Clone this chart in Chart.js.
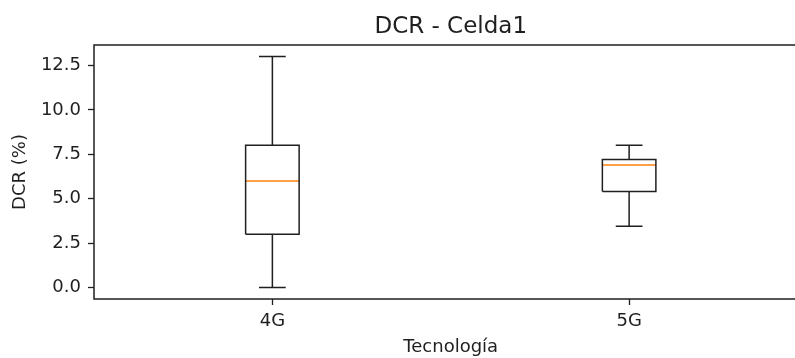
<!DOCTYPE html>
<html>
<head>
<meta charset="utf-8">
<script src="https://cdn.jsdelivr.net/npm/chart.js@4.4.1/dist/chart.umd.min.js"></script>
<style>
  html, body { margin: 0; padding: 0; background: #ffffff; overflow: hidden; }
  #wrap { width: 795px; height: 358px; overflow: hidden; position: relative; }
  canvas { display: block; position: absolute; left: 0; top: 0; }
</style>
</head>
<body>
<div id="wrap"><canvas id="chart" width="812" height="358"></canvas></div>
<script>
// Box-plot summary per technology (DCR, %)
const categories  = ['4G', '5G'];
const whiskerLow  = [0.0, 3.45];
const quartile1   = [3.0, 5.4];
const medians     = [6.0, 6.9];
const quartile3   = [8.0, 7.2];
const whiskerHigh = [13.0, 8.0];
const yTicks      = [0, 2.5, 5, 7.5, 10, 12.5];

const BOX_W = 0.15;          // box width in x units (positions 1, 2, ...)
const CAP_W = BOX_W / 2;     // whisker cap width
const INK = '#1f1f1f';
const MEDIAN_COLOR = '#ff7f0e';
const FONT = 'DejaVu Sans';

function seg(points, color) {
  return {
    data: points,
    showLine: true,
    borderColor: color,
    borderWidth: 1.5,
    pointRadius: 0,
    pointHoverRadius: 0,
    tension: 0,
    fill: false
  };
}

const datasets = [];
categories.forEach((name, i) => {
  const x = i + 1;
  const l = x - BOX_W / 2, r = x + BOX_W / 2;
  const cl = x - CAP_W / 2, cr = x + CAP_W / 2;
  // box
  datasets.push(seg([
    {x: l, y: quartile1[i]}, {x: r, y: quartile1[i]},
    {x: r, y: quartile3[i]}, {x: l, y: quartile3[i]},
    {x: l, y: quartile1[i]}
  ], INK));
  // whiskers
  datasets.push(seg([{x: x, y: whiskerLow[i]}, {x: x, y: quartile1[i]}], INK));
  datasets.push(seg([{x: x, y: quartile3[i]}, {x: x, y: whiskerHigh[i]}], INK));
  // caps
  datasets.push(seg([{x: cl, y: whiskerLow[i]}, {x: cr, y: whiskerLow[i]}], INK));
  datasets.push(seg([{x: cl, y: whiskerHigh[i]}, {x: cr, y: whiskerHigh[i]}], INK));
  // median
  datasets.push(seg([{x: l, y: medians[i]}, {x: r, y: medians[i]}], MEDIAN_COLOR));
});

// Axes spines: left, top and bottom edges of the plot area
const framePlugin = {
  id: 'frame',
  afterDraw(chart) {
    const {ctx, chartArea: a} = chart;
    ctx.save();
    ctx.strokeStyle = INK;
    ctx.lineWidth = 1.5;
    ctx.beginPath();
    ctx.moveTo(chart.width, a.top);
    ctx.lineTo(a.left, a.top);
    ctx.lineTo(a.left, a.bottom);
    ctx.lineTo(chart.width, a.bottom);
    ctx.stroke();
    ctx.restore();
  }
};

new Chart(document.getElementById('chart'), {
  type: 'scatter',
  data: { datasets },
  plugins: [framePlugin],
  options: {
    responsive: false,
    animation: false,
    events: [],
    layout: { padding: { left: 0, right: 4.5, top: 0, bottom: 0 } },
    plugins: {
      legend: { display: false },
      tooltip: { enabled: false },
      title: {
        display: true,
        fullSize: false,
        text: 'DCR - Celda1',
        color: INK,
        font: { family: FONT, size: 23, weight: 'normal', lineHeight: 1.2 },
        padding: { top: 13.5, bottom: 3.9 }
      }
    },
    scales: {
      x: {
        type: 'linear',
        min: 0.5,
        max: 2.5,
        afterBuildTicks(scale) {
          scale.ticks = categories.map((_, i) => ({ value: i + 1 }));
        },
        afterFit(scale) { scale.height = 59; },
        ticks: {
          autoSkip: false,
          maxRotation: 0,
          padding: 6,
          color: INK,
          font: { family: FONT, size: 18 },
          callback: (v) => categories[Math.round(v) - 1] ?? ''
        },
        grid: { drawOnChartArea: false, drawTicks: true, tickLength: 6, tickWidth: 1.3, tickColor: INK },
        border: { display: false },
        title: {
          display: true,
          text: 'Tecnología',
          color: INK,
          font: { family: FONT, size: 18, lineHeight: 1.2 },
          padding: { top: 0, bottom: 0 }
        }
      },
      y: {
        type: 'linear',
        min: -0.65,
        max: 13.65,
        afterBuildTicks(scale) {
          scale.ticks = yTicks.map(v => ({ value: v }));
        },
        afterFit(scale) { scale.width = 94; },
        ticks: {
          padding: 7,
          color: INK,
          font: { family: FONT, size: 18 },
          callback: (v) => Number(v).toFixed(1)
        },
        grid: { drawOnChartArea: false, drawTicks: true, tickLength: 6, tickWidth: 1.3, tickColor: INK },
        border: { display: false },
        title: {
          display: true,
          text: 'DCR (%)',
          color: INK,
          font: { family: FONT, size: 18, lineHeight: 1.2 },
          padding: { top: 10, bottom: 0 }
        }
      }
    }
  }
});
</script>
</body>
</html>
